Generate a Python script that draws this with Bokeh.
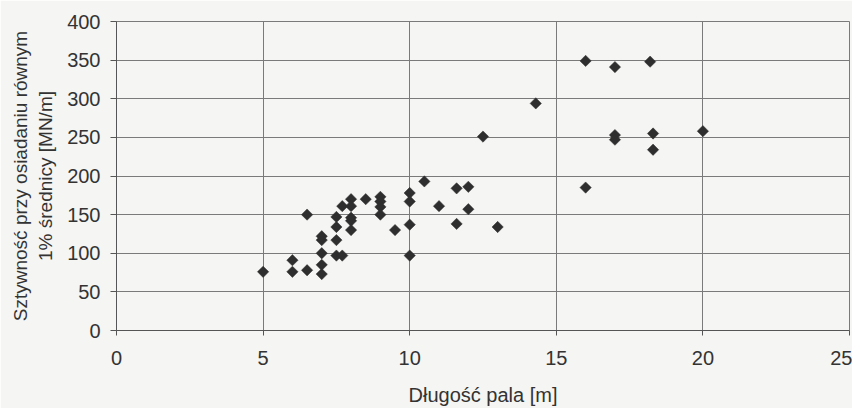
import math
from bokeh.plotting import figure
from bokeh.models import Range1d, FixedTicker
from bokeh.embed import file_html
from bokeh.resources import INLINE

# Pile length [m]
pile_length = [5.0, 6.0, 6.0, 6.5, 6.5, 7.0, 7.0, 7.0, 7.0, 7.0,
               7.5, 7.5, 7.5, 7.5, 7.7, 7.7, 8.0, 8.0, 8.0, 8.0,
               8.0, 8.5, 9.0, 9.0, 9.0, 9.0, 9.5, 10.0, 10.0, 10.0,
               10.0, 10.5, 11.0, 11.6, 12.0, 12.0, 11.6, 13.0, 12.5, 14.3,
               16.0, 17.0, 18.2, 17.0, 17.0, 18.3, 18.3, 20.0, 16.0]
# Stiffness at settlement equal to 1% of diameter [MN/m]
stiffness = [76, 91, 76, 78, 150, 85, 73, 100, 117, 122,
             147, 134, 117, 97, 97, 161, 170, 161, 146, 142,
             130, 170, 173, 167, 160, 150, 130, 178, 167, 137,
             97, 193, 161, 184, 186, 157, 138, 134, 251, 294,
             349, 341, 348, 253, 247, 255, 234, 258, 185]

x_ticks = [0, 5, 10, 15, 20, 25]
y_ticks = [0, 50, 100, 150, 200, 250, 300, 350, 400]

FONT = "Liberation Sans"
TXT = "#333333"
BG = "#f5f5f3"

p = figure(width=852, height=408, output_backend="svg", toolbar_location=None,
           x_range=Range1d(0, 25), y_range=Range1d(0, 400),
           min_border_left=116, min_border_right=3, min_border_top=21, min_border_bottom=74)
p.background_fill_color = BG
p.border_fill_color = BG
p.outline_line_color = "#7a7a7a"
p.outline_line_width = 1

p.scatter(pile_length, stiffness, marker="square", angle=math.pi / 4, size=8,
          fill_color="#2e2e2e", line_color="#2e2e2e", line_width=0.5)

for ax in (p.xaxis[0], p.yaxis[0]):
    ax.axis_line_color = "#555555"
    ax.major_tick_line_color = "#555555"
    ax.minor_tick_line_color = None
    ax.major_tick_in = 0
    ax.major_label_text_font = FONT
    ax.major_label_text_font_size = "20px"
    ax.major_label_text_color = TXT
    ax.axis_label_text_font = FONT
    ax.axis_label_text_font_style = "normal"
    ax.axis_label_text_color = TXT

p.xaxis.ticker = FixedTicker(ticks=x_ticks)
p.yaxis.ticker = FixedTicker(ticks=y_ticks)
p.xaxis.major_tick_out = 5
p.xaxis.major_label_standoff = 15
p.yaxis.major_tick_out = 6
p.yaxis.major_label_standoff = 10

p.xaxis.axis_label = "Długość pala [m]"
p.xaxis.axis_label_text_font_size = "20px"
p.xaxis.axis_label_standoff = 16
p.yaxis.axis_label = "Sztywność przy osiadaniu równym\n1% średnicy [MN/m]"
p.yaxis.axis_label_text_font_size = "19px"
p.yaxis.axis_label_standoff = 8

p.xgrid.ticker = FixedTicker(ticks=x_ticks)
p.ygrid.ticker = FixedTicker(ticks=y_ticks)
for g in (p.xgrid[0], p.ygrid[0]):
    g.grid_line_color = "#7a7a7a"
    g.grid_line_width = 1

open("out.html", "w").write(file_html(p, INLINE))
